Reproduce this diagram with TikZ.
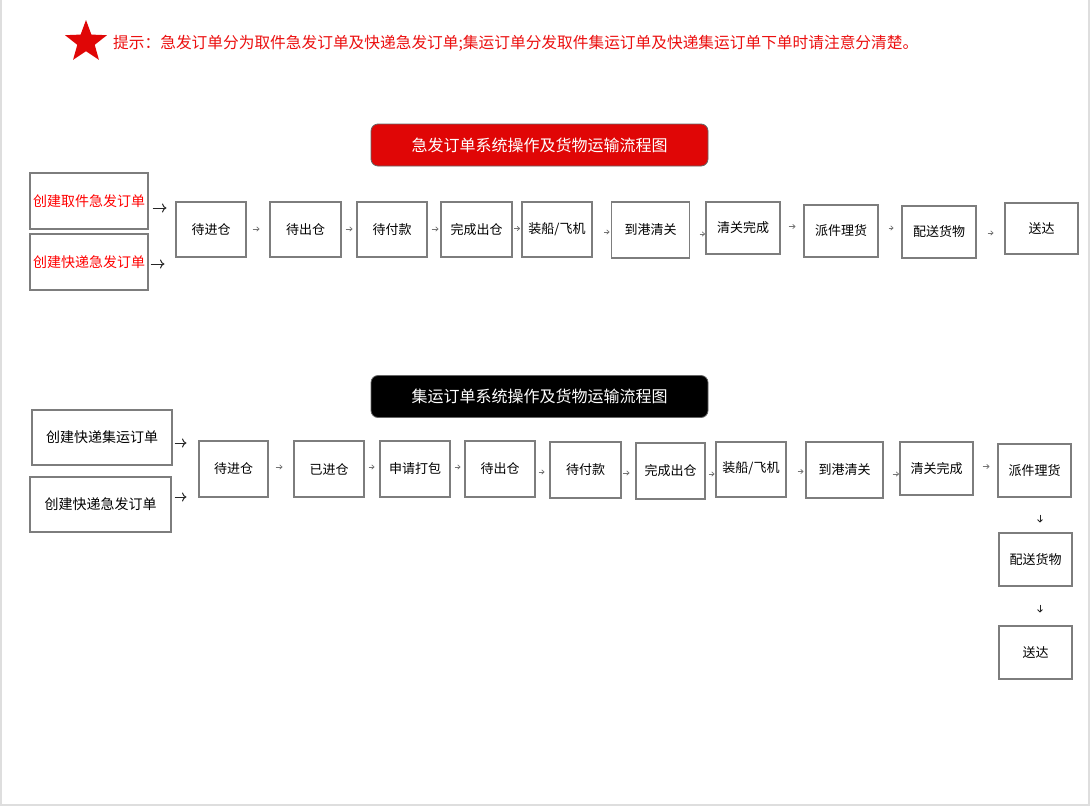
\documentclass[tikz,border=0pt]{standalone}
\usepackage{fontspec}
\setmainfont{Noto Sans CJK SC}
\usetikzlibrary{shapes.geometric,arrows.meta}
\definecolor{hint}{RGB}{236,16,16}
\definecolor{tred}{RGB}{224,6,6}
\definecolor{bord}{RGB}{125,125,125}
\definecolor{framec}{RGB}{222,222,222}
\begin{document}
\begin{tikzpicture}[x=1pt,y=-1pt,
  box/.style={draw=bord, line width=1.1pt, inner sep=0pt, fill=white,
    font=\fontsize{13}{15}\selectfont, text=black},
  lbox/.style={box, font=\fontsize{14}{16}\selectfont},
  titlebox/.style={draw=black!60, line width=0.8pt, rounded corners=7pt,
    minimum width=337, minimum height=42, inner sep=0pt, text=white,
    font=\fontsize{16}{18}\selectfont},
  sarr/.style={draw=black!55, line width=0.7pt, -{To[length=3pt,width=4.8pt]}},
  barr/.style={draw=black!85, line width=1pt, -{To[length=4.5pt,width=9pt]}},
  darr/.style={draw=black!85, line width=0.8pt, -{To[length=3.2pt,width=5.5pt]}}
]
\useasboundingbox (0,0) rectangle (1091,806);
\fill[white] (0,0) rectangle (1091,806);
\draw[framec, line width=1.5pt] (0.75,0) -- (0.75,805) -- (1089,805) -- (1089,0);

% hint
\node[star, star points=5, star point ratio=2.4, fill=tred, minimum size=44, inner sep=0pt] (star) at (86,42) {};
\node[anchor=west, text=hint, inner sep=0pt, font=\fontsize{15.7}{17}\selectfont] (hinttext) at (113,43)
  {提示：急发订单分为取件急发订单及快递急发订单;集运订单分发取件集运订单及快递集运订单下单时请注意分清楚。};

% ---------- section 1 ----------
\node[titlebox, fill=tred] (t1) at (539.5,145) {急发订单系统操作及货物运输流程图};

\node[lbox, text=red, minimum width=118, minimum height=56] (la) at (89,201) {创建取件急发订单};
\node[lbox, text=red, minimum width=118, minimum height=56] (lb) at (89,262) {创建快递急发订单};

\node[box, minimum width=70, minimum height=55] (r1) at (211,229.5) {待进仓};
\node[box, minimum width=71, minimum height=55] (r2) at (305.5,229.5) {待出仓};
\node[box, minimum width=70, minimum height=55] (r3) at (392,229.5) {待付款};
\node[box, minimum width=71, minimum height=55] (r4) at (476.5,229.5) {完成出仓};
\node[box, minimum width=70, minimum height=55] (r5) at (557,229.5) {装船/飞机};
\node[box, minimum width=78, minimum height=56] (r6) at (650.5,230) {到港清关};
\node[box, minimum width=74, minimum height=52] (r7) at (743,228) {清关完成};
\node[box, minimum width=74, minimum height=52] (r8) at (841,231) {派件理货};
\node[box, minimum width=74, minimum height=52] (r9) at (939,232) {配送货物};
\node[box, minimum width=73, minimum height=51] (r10) at (1041.5,228.5) {送达};

\draw[barr, shorten <=4, shorten >=9] (la.east |- 0,208) -- (r1.west |- 0,208);
\draw[barr, shorten <=2, shorten >=11] (lb.east |- 0,264) -- (r1.west |- 0,264);

\draw[sarr, shorten <=6, shorten >=10] (r1.east |- 0,229) -- (r2.west |- 0,229);
\draw[sarr, shorten <=4, shorten >=4] (r2.east |- 0,229) -- (r3.west |- 0,229);
\draw[sarr, shorten <=4, shorten >=2] (r3.east |- 0,229) -- (r4.west |- 0,229);
\draw[sarr, shorten <=1.5, shorten >=1.5] (r4.east |- 0,228.5) -- (r5.west |- 0,228.5);
\draw[sarr, shorten <=11.5, shorten >=1.5] (r5.east |- 0,232) -- (r6.west |- 0,232);
\draw[sarr, shorten <=9.5, shorten >=0.5] (r6.east |- 0,234) -- (r7.west |- 0,234);
\draw[sarr, shorten <=8, shorten >=8] (r7.east |- 0,226.5) -- (r8.west |- 0,226.5);
\draw[sarr, shorten <=10, shorten >=8] (r8.east |- 0,228) -- (r9.west |- 0,228);
\draw[sarr, shorten <=11, shorten >=11] (r9.east |- 0,233) -- (r10.west |- 0,233);

% ---------- section 2 ----------
\node[titlebox, fill=black] (t2) at (539.5,396.5) {集运订单系统操作及货物运输流程图};

\node[lbox, minimum width=140, minimum height=55] (lc) at (102,437.5) {创建快递集运订单};
\node[lbox, minimum width=141, minimum height=55] (ld) at (100.5,504.5) {创建快递急发订单};

\node[box, minimum width=69, minimum height=56] (s1) at (233.5,469) {待进仓};
\node[box, minimum width=70, minimum height=56] (s2) at (329,469) {已进仓};
\node[box, minimum width=70, minimum height=56] (s3) at (415,469) {申请打包};
\node[box, minimum width=70, minimum height=56] (s4) at (500,469) {待出仓};
\node[box, minimum width=71, minimum height=56] (s5) at (585.5,470) {待付款};
\node[box, minimum width=69, minimum height=56] (s6) at (670.5,471) {\raisebox{-3pt}{完成出仓}};
\node[box, minimum width=70, minimum height=55] (s7) at (751,469.5) {\raisebox{4pt}{装船/飞机}};
\node[box, minimum width=77, minimum height=56] (s8) at (844.5,470) {到港清关};
\node[box, minimum width=73, minimum height=53] (s9) at (936.5,468.5) {\raisebox{2pt}{清关完成}};
\node[box, minimum width=73, minimum height=53] (s10) at (1034.5,470.5) {派件理货};
\node[box, minimum width=73, minimum height=53] (s11) at (1035.5,559.5) {配送货物};
\node[box, minimum width=73, minimum height=53] (s12) at (1035.5,652.5) {送达};

\draw[barr, shorten <=2, shorten >=12] (lc.east |- 0,443) -- (s1.west |- 0,443);
\draw[barr, shorten <=3, shorten >=12] (ld.east |- 0,497) -- (s1.west |- 0,497);

\draw[sarr, shorten <=7, shorten >=11] (s1.east |- 0,467) -- (s2.west |- 0,467);
\draw[sarr, shorten <=4, shorten >=5] (s2.east |- 0,467) -- (s3.west |- 0,467);
\draw[sarr, shorten <=4, shorten >=4] (s3.east |- 0,467) -- (s4.west |- 0,467);
\draw[sarr, shorten <=3, shorten >=5] (s4.east |- 0,472) -- (s5.west |- 0,472);
\draw[sarr, shorten <=1.5, shorten >=6] (s5.east |- 0,473) -- (s6.west |- 0,473);
\draw[sarr, shorten <=3, shorten >=1] (s6.east |- 0,474) -- (s7.west |- 0,474);
\draw[sarr, shorten <=11, shorten >=2] (s7.east |- 0,471.5) -- (s8.west |- 0,471.5);
\draw[sarr, shorten <=9, shorten >=0.5] (s8.east |- 0,474) -- (s9.west |- 0,474);
\draw[sarr, shorten <=9, shorten >=8] (s9.east |- 0,466.5) -- (s10.west |- 0,466.5);

\draw[darr, shorten <=17, shorten >=10] (s10.south -| 1040,0) -- (s11.north -| 1040,0);
\draw[darr, shorten <=18, shorten >=13] (s11.south -| 1040,0) -- (s12.north -| 1040,0);
\end{tikzpicture}
\end{document}
